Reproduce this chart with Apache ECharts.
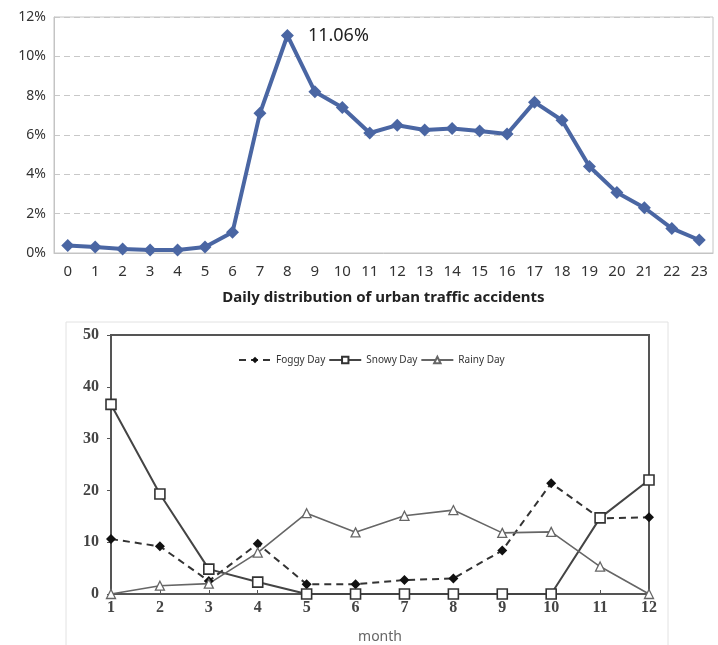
<!DOCTYPE html>
<html>
<head>
<meta charset="utf-8">
<script src="https://cdn.jsdelivr.net/npm/echarts@6/dist/echarts.min.js"></script>
<style>
  html, body { margin: 0; padding: 0; background: #fff; }
  #chart { width: 718px; height: 645px; }
</style>
</head>
<body>
<div id="chart"></div>
<script>
// top chart: hourly share of accidents (%)
const hours = ['0','1','2','3','4','5','6','7','8','9','10','11','12','13','14','15','16','17','18','19','20','21','22','23'];
const hourShare = [0.38, 0.3, 0.2, 0.15, 0.15, 0.3, 1.05, 7.1, 11.06, 8.2, 7.4, 6.1, 6.5, 6.25, 6.33, 6.2, 6.05, 7.67, 6.75, 4.4, 3.07, 2.3, 1.25, 0.66];
const peakIndex = 8;

// bottom chart: accidents per month by weather
const months = ['1','2','3','4','5','6','7','8','9','10','11','12'];
const foggy = [10.6, 9.2, 2.5, 9.7, 1.9, 1.9, 2.7, 3.0, 8.4, 21.4, 14.6, 14.8];
const snowy = [36.6, 19.3, 4.8, 2.3, 0, 0, 0, 0, 0, 0, 14.7, 22.0];
const rainy = [0, 1.6, 2.0, 8.0, 15.6, 11.9, 15.1, 16.2, 11.8, 12.0, 5.3, 0];

let myChart = echarts.init(document.getElementById('chart'));

const serifAxis = { fontFamily: 'Liberation Serif', fontWeight: 'bold', fontSize: 16, color: '#444' };

let option = {
  animation: false,
  backgroundColor: '#fff',
  graphic: [
    {
      type: 'rect',
      shape: { x: 66, y: 322, width: 602, height: 330 },
      style: { fill: 'none', stroke: '#e2e2e2', lineWidth: 1 }
    }
  ],
  legend: {
    left: 233,
    top: 350,
    itemGap: 3,
    itemWidth: 32,
    itemHeight: 8,
    textStyle: { fontFamily: 'Noto Sans', fontSize: 10, color: '#333' },
    data: ['Foggy Day', 'Snowy Day', 'Rainy Day']
  },
  grid: [
    { left: 54, top: 17, right: 5, height: 236, show: true, borderColor: '#c4c4c4', borderWidth: 1 },
    { left: 111, top: 335, right: 69, height: 261, show: true, borderColor: '#555', borderWidth: 2 }
  ],
  xAxis: [
    {
      gridIndex: 0,
      type: 'category',
      boundaryGap: true,
      data: hours,
      name: 'Daily distribution of urban traffic accidents',
      nameLocation: 'middle',
      nameGap: 37,
      nameTextStyle: { fontFamily: 'Noto Sans', fontWeight: 'bold', fontSize: 15, color: '#222' },
      axisLine: { lineStyle: { color: '#c4c4c4' } },
      axisTick: { show: false },
      axisLabel: { fontFamily: 'Noto Sans', fontSize: 15, color: '#333', margin: 11, interval: 0 }
    },
    {
      gridIndex: 1,
      type: 'category',
      boundaryGap: false,
      data: months,
      name: 'month',
      nameLocation: 'middle',
      nameGap: 36,
      nameTextStyle: { fontFamily: 'Noto Sans', fontSize: 14, color: '#666' },
      axisLine: { lineStyle: { color: '#555', width: 2 } },
      axisTick: { inside: true, length: 4, lineStyle: { color: '#555' } },
      axisLabel: Object.assign({ margin: 6 }, serifAxis)
    }
  ],
  yAxis: [
    {
      gridIndex: 0,
      type: 'value',
      min: 0,
      max: 12,
      interval: 2,
      axisLine: { show: true, lineStyle: { color: '#c4c4c4' } },
      axisTick: { show: false },
      axisLabel: { formatter: '{value}%', fontFamily: 'Noto Sans', fontSize: 14, color: '#333', margin: 8 },
      splitLine: { lineStyle: { type: [6, 4], color: '#c8c8c8' } }
    },
    {
      gridIndex: 1,
      type: 'value',
      min: 0,
      max: 50,
      interval: 10,
      axisLine: { show: true, lineStyle: { color: '#555', width: 2 } },
      axisTick: { show: true, length: 4, lineStyle: { color: '#555' } },
      axisLabel: Object.assign({ margin: 12 }, serifAxis),
      splitLine: { show: false }
    }
  ],
  series: [
    {
      name: 'share',
      type: 'line',
      xAxisIndex: 0,
      yAxisIndex: 0,
      data: hourShare,
      symbol: 'diamond',
      symbolSize: 13,
      lineStyle: { color: '#4a66a3', width: 4 },
      itemStyle: { color: '#4a66a3' },
      label: {
        show: true,
        position: 'right',
        distance: 14,
        fontFamily: 'Noto Sans',
        fontSize: 18,
        color: '#222',
        formatter: p => p.dataIndex === peakIndex ? p.value.toFixed(2) + '%' : ''
      }
    },
    {
      name: 'Foggy Day',
      type: 'line',
      xAxisIndex: 1,
      yAxisIndex: 1,
      data: foggy,
      symbol: 'diamond',
      symbolSize: 10,
      lineStyle: { color: '#333', width: 2, type: [7, 5] },
      itemStyle: { color: '#111' }
    },
    {
      name: 'Snowy Day',
      type: 'line',
      xAxisIndex: 1,
      yAxisIndex: 1,
      data: snowy,
      symbol: 'rect',
      symbolSize: 10,
      lineStyle: { color: '#444', width: 2 },
      itemStyle: { color: '#fff', borderColor: '#333', borderWidth: 1.6 }
    },
    {
      name: 'Rainy Day',
      type: 'line',
      xAxisIndex: 1,
      yAxisIndex: 1,
      data: rainy,
      symbol: 'triangle',
      symbolSize: 9,
      lineStyle: { color: '#666', width: 1.6 },
      itemStyle: { color: '#fff', borderColor: '#666', borderWidth: 1.3 }
    }
  ]
};

myChart.setOption(option, true);
</script>
</body>
</html>
